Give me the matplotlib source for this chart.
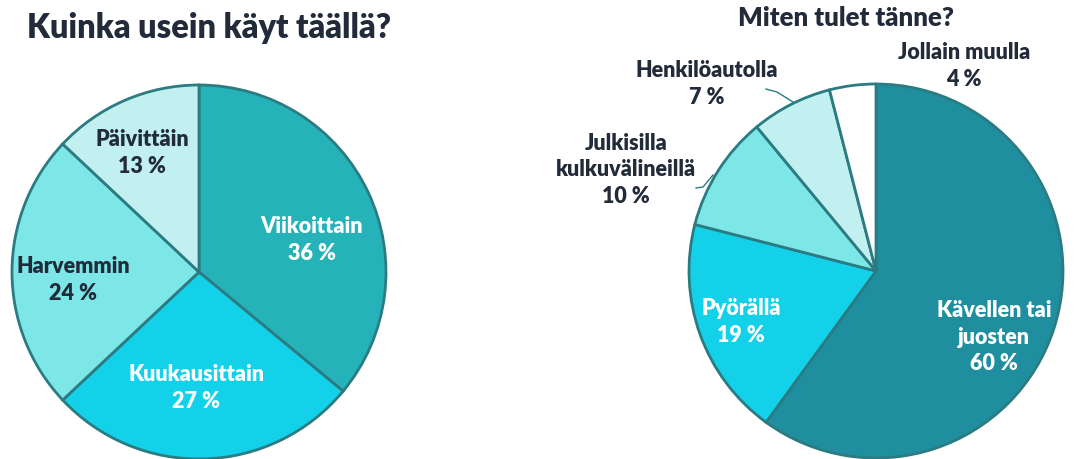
import matplotlib

matplotlib.use("Agg")
import matplotlib.pyplot as plt

plt.rcParams["font.family"] = ["Lato", "DejaVu Sans"]

W, H = 1075, 459

# vasen kaavio: kuinka usein
freq_labels = ["Viikoittain", "Kuukausittain", "Harvemmin", "Päivittäin"]
freq_values = [36, 27, 24, 13]
freq_colors = ["#25b3b9", "#13d1e9", "#7de6e6", "#c2efef"]
freq_text_colors = ["white", "white", "#222b3a", "#222b3a"]
freq_label_pos = [(312, 240), (196, 388), (73, 280), (142, 153)]

# oikea kaavio: miten tulet
mode_labels = ["Kävellen tai\njuosten", "Pyörällä", "Julkisilla\nkulkuvälineillä",
               "Henkilöautolla", "Jollain muulla"]
mode_values = [60, 19, 10, 7, 4]
mode_colors = ["#1f8e9f", "#13d1e9", "#7de6e6", "#c2efef", "#ffffff"]
mode_text_colors = ["white", "white", "#222b3a", "#222b3a", "#222b3a"]
mode_label_pos = [(994, 337), (741, 322), (626, 170), (707, 84), (964, 66)]

EDGE = "#2b7c82"
DARK = "#222b3a"
WEIGHT = "heavy"


def y(py):
    return H - py


fig = plt.figure(figsize=(W / 100, H / 100), dpi=100)
ax = fig.add_axes([0, 0, 1, 1])

wp = dict(edgecolor=EDGE, linewidth=2.0)
ax.pie(freq_values, colors=freq_colors, startangle=90, counterclock=False,
       center=(199, y(272)), radius=187, wedgeprops=wp)
ax.pie(mode_values, colors=mode_colors, startangle=90, counterclock=False,
       center=(876, y(271)), radius=187, wedgeprops=wp)

for name, v, c, (px, py) in zip(freq_labels, freq_values, freq_text_colors, freq_label_pos):
    ax.text(px, y(py), f"{name}\n{v} %", ha="center", va="center", color=c,
            fontsize=15.5, fontweight=WEIGHT, linespacing=1.35)

for name, v, c, (px, py) in zip(mode_labels, mode_values, mode_text_colors, mode_label_pos):
    ax.text(px, y(py), f"{name}\n{v} %", ha="center", va="center", color=c,
            fontsize=15.5, fontweight=WEIGHT, linespacing=1.35)

# johtoviivat
ax.plot([766, 777, 793], [y(89), y(92), y(102)], color=EDGE, lw=1.0)
ax.plot([696, 703, 713], [y(188), y(187), y(175)], color=EDGE, lw=1.0)

ax.text(209, y(28), "Kuinka usein käyt täällä?", ha="center", va="center",
        color=DARK, fontsize=23.5, fontweight=WEIGHT)
ax.text(846, y(18), "Miten tulet tänne?", ha="center", va="center",
        color=DARK, fontsize=18.5, fontweight=WEIGHT)

ax.set_xlim(0, W)
ax.set_ylim(0, H)
ax.set_aspect("auto")
ax.axis("off")

fig.savefig("out.png", dpi=100)
